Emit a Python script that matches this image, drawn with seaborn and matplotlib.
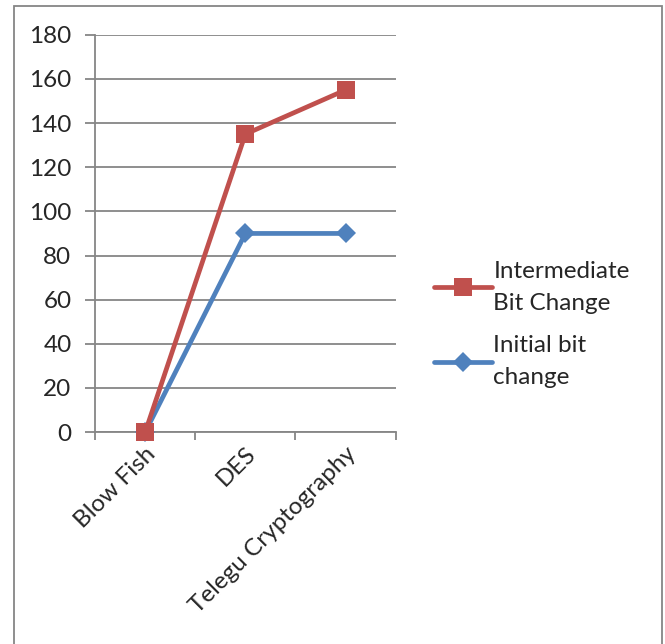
import pandas as pd
import matplotlib
matplotlib.use("Agg")
import matplotlib.pyplot as plt
import seaborn as sns
from matplotlib.patches import Rectangle

# Data
algorithms = ["Blow Fish", "DES", "Telegu Cryptography"]
intermediate_bit_change = [0, 135, 155]
initial_bit_change = [0, 90, 90]
series_names = ["Intermediate\nBit Change", "Initial bit\nchange"]
y_ticks = [0, 20, 40, 60, 80, 100, 120, 140, 160, 180]

red = "#C0504D"
blue = "#4F81BD"

df = pd.DataFrame({
    "algorithm": algorithms * 2,
    "value": intermediate_bit_change + initial_bit_change,
    "series": [series_names[0]] * 3 + [series_names[1]] * 3,
})

sns.set_theme(style="white")
plt.rcParams["font.family"] = ["Lato", "DejaVu Sans"]

fig = plt.figure(figsize=(6.65, 6.44), dpi=100)
ax = fig.add_axes([0.143, 0.329, 0.452, 0.617])

grey = "#868686"
fs = 17.5
sns.lineplot(data=df, x="algorithm", y="value", hue="series", style="series",
             hue_order=[series_names[1], series_names[0]],
             palette={series_names[0]: red, series_names[1]: blue},
             markers={series_names[0]: "s", series_names[1]: "D"},
             dashes=False, linewidth=3.4, markersize=13, markeredgewidth=0,
             ax=ax, legend=True)


def style_line(line):
    # red on top, diamonds a bit smaller than the squares
    is_red = matplotlib.colors.to_hex(line.get_color()).lower() == red.lower()
    line.set_zorder(4 if is_red else 3)
    line.set_markersize(13 if is_red else 10.5)
    line.set_linewidth(3.4)


for line in ax.lines:
    line.set_clip_on(False)
    style_line(line)

ax.set_xlim(-0.5, 2.5)
ax.set_ylim(0, 180)
ax.set_yticks(y_ticks)
ax.set_yticklabels([str(v) for v in y_ticks], fontsize=fs)
ax.yaxis.grid(True, color=grey, linewidth=1.3)
ax.set_axisbelow(True)

# category boundaries get the tick marks, labels sit between them
ax.set_xticks([-0.5, 0.5, 1.5, 2.5])
ax.set_xticklabels([])
ax.set_xticks([0, 1, 2], minor=True)
ax.set_xticklabels(algorithms, minor=True, rotation=45, ha="right",
                   rotation_mode="anchor", fontsize=fs)
ax.tick_params(axis="x", which="minor", length=0, pad=8)
ax.tick_params(axis="x", which="major", direction="out", length=6, width=1.3,
               color=grey, bottom=True)
ax.tick_params(axis="y", direction="out", length=7, width=1.3, color=grey,
               left=True, pad=10)
ax.set_xlabel("")
ax.set_ylabel("")

for side in ["top", "right"]:
    ax.spines[side].set_visible(False)
for side in ["left", "bottom"]:
    ax.spines[side].set_color(grey)
    ax.spines[side].set_linewidth(1.3)

handles, labels = ax.get_legend_handles_labels()
ax.get_legend().remove()
order = [labels.index(series_names[0]), labels.index(series_names[1])]
for h in handles:
    style_line(h)
leg = fig.legend([handles[i] for i in order], [labels[i] for i in order],
                 loc="upper left", bbox_to_anchor=(0.634, 0.613), frameon=False,
                 fontsize=fs, handlelength=2.4, handletextpad=0.05,
                 labelspacing=0.9, borderpad=0)
for t in leg.get_texts():
    t.set_linespacing(1.6)

# outer chart border
fig.patches.append(Rectangle((0.021, -0.05), 0.975, 1.04, transform=fig.transFigure,
                             fill=False, edgecolor=grey, linewidth=1.3))

fig.savefig("out.png", dpi=100)
